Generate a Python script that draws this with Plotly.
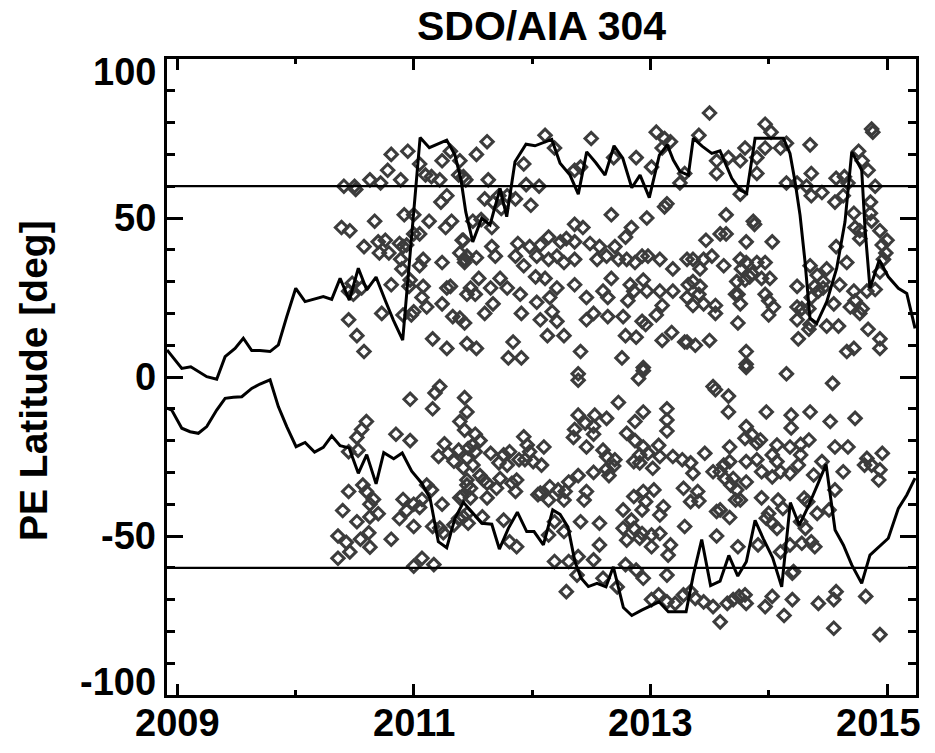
import plotly.graph_objects as go

# ---------------- data ----------------
# polar-edge latitude, northern boundary (one value per Carrington rotation)
north_year = [2008.915, 2009.04, 2009.116, 2009.251, 2009.335, 2009.406, 2009.49, 2009.56, 2009.631, 2009.701,
              2009.786, 2009.856, 2009.927, 2010.003, 2010.082, 2010.166, 2010.236, 2010.307, 2010.378, 2010.456,
              2010.532, 2010.603, 2010.682, 2010.758, 2010.828, 2010.907, 2011.054, 2011.132, 2011.206, 2011.279,
              2011.349, 2011.40, 2011.44, 2011.499, 2011.575, 2011.645, 2011.73, 2011.786, 2011.856, 2011.949,
              2012.025, 2012.093, 2012.167, 2012.237, 2012.321, 2012.391, 2012.462, 2012.541, 2012.617, 2012.693,
              2012.767, 2012.843, 2012.913, 2012.991, 2013.076, 2013.143, 2013.194, 2013.251, 2013.321, 2013.363,
              2013.437, 2013.519, 2013.589, 2013.688, 2013.758, 2013.814, 2013.885, 2013.961, 2014.037, 2014.124,
              2014.18, 2014.223, 2014.265, 2014.307, 2014.349, 2014.406, 2014.491, 2014.575, 2014.645, 2014.702,
              2014.786, 2014.814, 2014.856, 2014.935, 2015.011, 2015.096, 2015.167, 2015.237]
north_lat = [8.5, 2.7, 3.2, 0.1, -0.7, 6.4, 9.0, 12.2, 8.3, 8.3,
             8.0, 10.1, 19.0, 27.9, 23.7, 24.7, 25.3, 24.4, 31.0, 24.2,
             34.2, 27.4, 31.4, 24.2, 17.9, 11.6, 75.3, 72.1, 73.3, 74.5,
             69.8, 61.9, 51.9, 42.5, 49.9, 47.8, 59.3, 50.4, 67.7, 73.2,
             72.7, 73.6, 74.7, 67.2, 63.5, 57.5, 70.8, 67.3, 63.5, 72.7,
             68.8, 59.5, 63.5, 56.4, 69.8, 73.0, 68.2, 64.6, 63.5, 75.1,
             72.6, 70.3, 71.1, 62.5, 58.8, 57.8, 75.1, 75.1, 75.1, 75.1,
             70.3, 61.4, 50.9, 36.3, 18.5, 16.9, 23.7, 34.2, 48.8, 70.8,
             65.1, 46.8, 27.9, 36.8, 31.5, 27.9, 26.3, 15.3]

# polar-edge latitude, southern boundary
south_year = [2008.915, 2008.955, 2009.04, 2009.11, 2009.18, 2009.251, 2009.335, 2009.406, 2009.476, 2009.547,
              2009.631, 2009.701, 2009.786, 2009.856, 2009.927, 2010.006, 2010.082, 2010.162, 2010.236, 2010.307,
              2010.378, 2010.454, 2010.532, 2010.603, 2010.682, 2010.747, 2010.831, 2010.903, 2010.983, 2011.068,
              2011.138, 2011.208, 2011.279, 2011.349, 2011.42, 2011.504, 2011.575, 2011.66, 2011.724, 2011.8,
              2011.876, 2011.955, 2012.017, 2012.096, 2012.175, 2012.237, 2012.304, 2012.363, 2012.414, 2012.476,
              2012.549, 2012.625, 2012.687, 2012.772, 2012.843, 2012.927, 2013.002, 2013.073, 2013.152, 2013.225,
              2013.302, 2013.363, 2013.434, 2013.509, 2013.589, 2013.663, 2013.739, 2013.811, 2013.885, 2013.955,
              2014.033, 2014.11, 2014.183, 2014.259, 2014.333, 2014.406, 2014.485, 2014.561, 2014.631, 2014.702,
              2014.786, 2014.856, 2014.935, 2015.011, 2015.096, 2015.167, 2015.237]
south_lat = [-9.8, -10.4, -16.1, -17.2, -17.7, -15.6, -10.4, -6.7, -6.4, -6.2,
             -3.6, -2.2, -0.9, -9.3, -15.6, -21.9, -20.6, -23.6, -22.1, -18.5,
             -21.6, -22.3, -30.3, -24.4, -33.6, -23.8, -25.7, -23.9, -29.6, -33.4,
             -38.1, -51.8, -53.7, -44.4, -39.4, -42.9, -46.0, -46.3, -54.1, -47.6,
             -42.5, -48.6, -48.6, -52.8, -41.8, -43.2, -47.2, -58.1, -63.2, -65.9,
             -64.9, -66.0, -59.7, -72.5, -75.0, -73.3, -72.0, -70.7, -73.8, -73.8,
             -73.8, -62.3, -51.1, -65.6, -64.2, -56.1, -62.6, -58.1, -45.1, -50.9,
             -56.8, -66.0, -39.5, -46.6, -40.8, -34.5, -27.5, -48.1, -52.8, -59.1,
             -64.9, -56.0, -53.4, -50.7, -41.3, -37.1, -31.8]

# individual polar-edge detections (year, latitude)
pe_north_2010_2011 = [
    (2010.81, 70), (2010.95, 71), (2010.78, 65), (2011.05, 67), (2011.24, 68), (2011.31, 71),
    (2010.41, 60), (2010.50, 60), (2010.51, 59), (2010.63, 62), (2010.72, 61), (2010.89, 62), (2011.10, 63.5),
    (2011.15, 63), (2011.22, 62), (2011.38, 63.5), (2011.28, 57), (2011.23, 55),
    (2010.39, 47), (2010.46, 46), (2010.67, 49), (2010.92, 51), (2011.00, 51), (2011.13, 49), (2011.32, 49),
    (2011.27, 47), (2011.05, 45), (2011.00, 45), (2011.41, 43),
    (2010.58, 41), (2010.70, 42.5), (2010.76, 43), (2010.71, 39), (2010.79, 39), (2010.88, 42), (2010.91, 41),
    (2010.94, 41.5), (2010.89, 37), (2010.90, 34), (2011.08, 37), (2011.05, 35), (2011.24, 36), (2011.43, 37),
    (2010.81, 29), (2010.97, 30.5), (2010.96, 28.5), (2011.08, 28.5), (2011.07, 25), (2011.11, 22), (2011.28, 28),
    (2011.31, 28.5), (2011.24, 23), (2011.45, 26), (2010.48, 29.5), (2010.45, 27), (2010.49, 26), (2010.56, 28),
    (2010.73, 20), (2010.91, 19.5), (2010.98, 19.5), (2011.00, 20.5), (2011.33, 19), (2011.39, 18.5),
    (2010.45, 18), (2010.52, 13), (2010.58, 8), (2011.16, 12), (2011.28, 9), (2011.45, 10.5),
]
pe_north_2011_2013 = [
    (2011.62, 74), (2011.53, 70), (2011.39, 68), (2012.11, 76), (2012.50, 75), (2013.05, 77), (2013.12, 75),
    (2013.17, 74), (2011.93, 67), (2012.19, 72), (2012.41, 66), (2012.36, 65), (2012.69, 69), (2012.88, 69),
    (2013.01, 66), (2013.10, 72), (2011.42, 63), (2011.44, 62), (2011.63, 62), (2011.95, 60.5), (2012.06, 60),
    (2013.25, 61), (2011.60, 56), (2011.67, 55), (2011.72, 57), (2011.79, 57), (2011.86, 56), (2011.74, 53),
    (2011.99, 54), (2013.12, 53.5), (2013.14, 54.5), (2012.67, 51), (2012.97, 50),
    (2011.50, 49), (2011.57, 49.5), (2011.66, 47), (2012.36, 48), (2012.43, 47), (2012.84, 47), (2012.79, 44),
    (2011.42, 43), (2011.39, 39), (2011.66, 41), (2011.69, 38),
    (2011.88, 42), (2011.98, 41), (2012.07, 41.5), (2012.14, 44), (2012.24, 42.5), (2012.29, 43.5),
    (2012.36, 42.5), (2012.49, 42), (2012.57, 41), (2012.70, 41),
    (2011.45, 38), (2011.53, 37.5), (2011.43, 36),
    (2011.86, 38), (2011.93, 35), (2012.04, 38), (2012.14, 37), (2012.21, 38), (2012.27, 36), (2012.36, 37),
    (2012.55, 37), (2012.63, 38), (2012.73, 37), (2012.80, 37), (2012.87, 36), (2012.93, 38), (2012.98, 38),
    (2013.08, 37), (2013.19, 34), (2013.31, 37),
    (2011.55, 31), (2011.48, 28), (2011.52, 26), (2011.65, 28), (2011.73, 31), (2011.79, 28), (2011.67, 23),
    (2011.60, 20), (2011.43, 17),
    (2012.03, 31.5), (2012.11, 31), (2012.21, 28), (2011.90, 26), (2012.04, 23.5), (2012.15, 25), (2011.91, 20),
    (2012.07, 18), (2012.17, 20.5), (2012.21, 17.5), (2012.13, 13), (2012.27, 13),
    (2012.36, 29), (2012.46, 25), (2012.60, 27), (2012.67, 31), (2012.64, 25), (2012.52, 20), (2012.46, 18),
    (2012.64, 19),
    (2012.83, 29), (2012.94, 30.5), (2012.86, 27), (2012.81, 24), (2012.97, 27), (2013.08, 27), (2013.19, 27),
    (2013.10, 22.5), (2013.05, 19.5), (2012.93, 17.5), (2012.96, 16.5), (2012.77, 19), (2012.79, 13),
    (2012.88, 12.5), (2013.10, 11.5), (2013.18, 14), (2013.29, 11),
    (2011.53, 9), (2011.84, 11), (2011.80, 6), (2011.91, 6), (2012.41, 8), (2012.76, 6), (2012.39, 1),
    (2012.94, 3),
]
pe_north_2013_2015 = [
    (2013.50, 83), (2013.41, 76), (2013.97, 79.5), (2014.02, 77), (2014.87, 78), (2014.88, 77),
    (2013.80, 72), (2013.90, 69), (2013.97, 72), (2014.10, 72), (2014.15, 73.5), (2014.35, 73), (2014.76, 71),
    (2013.56, 68), (2013.66, 69), (2013.76, 68), (2013.56, 64), (2013.90, 64), (2013.29, 64), (2014.36, 64),
    (2014.79, 68), (2014.84, 65), (2014.57, 62.5), (2014.64, 63), (2014.67, 61), (2013.76, 57.5), (2014.15, 61),
    (2014.24, 61), (2014.32, 60), (2014.36, 57), (2014.45, 58), (2014.90, 60),
    (2014.56, 55), (2014.63, 57), (2014.86, 55), (2014.86, 51.5), (2013.64, 51), (2013.87, 49), (2013.88, 48),
    (2014.72, 51.5), (2014.73, 47), (2014.77, 46), (2014.87, 49), (2013.59, 45), (2013.64, 45), (2013.47, 43),
    (2013.81, 42.5), (2014.03, 42.5), (2014.77, 43.5), (2014.94, 46), (2015.00, 43), (2014.96, 41.5),
    (2014.57, 41),
    (2013.36, 37), (2013.45, 37), (2013.52, 38), (2013.62, 35), (2013.42, 34), (2013.76, 37), (2013.81, 36),
    (2013.90, 36), (2013.97, 36), (2013.77, 34), (2013.86, 32.5), (2013.94, 31), (2014.01, 31),
    (2014.99, 39), (2014.97, 37), (2014.94, 33), (2014.66, 36),
    (2013.36, 30), (2013.32, 29), (2013.42, 28.5), (2013.41, 26), (2013.31, 25), (2013.36, 22.5), (2013.45, 23),
    (2013.55, 22.5), (2013.55, 20),
    (2013.73, 30), (2013.74, 26), (2013.72, 26), (2013.80, 30.5), (2013.84, 31.5), (2013.76, 23), (2013.74, 17),
    (2013.97, 26), (2014.00, 24), (2014.04, 22), (2014.00, 19.5),
    (2014.24, 28.5), (2014.24, 22), (2014.28, 21.5), (2014.24, 18), (2014.34, 21.5), (2014.36, 25),
    (2014.39, 28.5), (2014.35, 35), (2014.41, 32), (2014.49, 34), (2014.46, 30),
    (2014.42, 27), (2014.46, 28), (2014.55, 23), (2014.60, 29),
    (2014.49, 16), (2014.59, 16), (2014.34, 15), (2014.25, 12), (2014.35, 16.5),
    (2014.69, 22), (2014.73, 24), (2014.77, 20), (2014.79, 21.5), (2014.72, 27), (2014.83, 27), (2014.90, 27.5),
    (2014.84, 15), (2014.94, 12), (2014.94, 9), (2014.66, 8), (2014.72, 9),
    (2013.31, 11), (2013.38, 10), (2013.50, 11.5), (2013.81, 8), (2013.81, 4), (2014.15, 1),
]
pe_south_2010_2011 = [
    (2011.22, -3), (2011.18, -5), (2010.97, -7), (2011.16, -10), (2011.43, -6.5), (2011.45, -11), (2011.39, -14),
    (2010.60, -14), (2010.56, -16.5), (2010.52, -19), (2010.53, -23), (2010.45, -23.5), (2010.85, -18),
    (2010.97, -20), (2011.26, -21), (2011.21, -25), (2011.29, -24), (2011.34, -26.5), (2011.38, -23),
    (2011.42, -28.5), (2011.45, -25.5),
    (2010.57, -34), (2010.60, -36), (2010.45, -36), (2010.66, -38.5), (2010.63, -40),
    (2010.40, -42), (2010.52, -45.5), (2010.63, -44), (2010.70, -43),
    (2010.36, -50), (2010.43, -52), (2010.55, -51), (2010.62, -49), (2010.63, -53.5), (2010.46, -55),
    (2010.36, -57),
    (2010.91, -38.5), (2011.00, -40), (2010.94, -42), (2011.05, -41), (2011.07, -38.5), (2010.88, -44.5),
    (2011.00, -47), (2010.81, -51), (2011.07, -57), (2011.00, -59.5), (2011.17, -59), (2011.15, -35.5),
    (2011.11, -34), (2011.24, -40), (2011.22, -47.5), (2011.25, -49), (2011.34, -46.5), (2011.38, -44.5),
    (2011.45, -43), (2011.41, -37.5), (2011.45, -34), (2011.16, -47),
]
pe_south_2011_2013 = [
    (2012.39, -1), (2012.94, 2), (2012.90, -0.5), (2012.73, -8),
    (2012.39, -12), (2012.53, -12), (2012.45, -14.5), (2012.63, -13), (2012.52, -15.5), (2012.36, -16.5),
    (2012.35, -19), (2012.52, -18), (2012.46, -22),
    (2012.94, -11), (2012.87, -14), (2013.14, -10), (2013.14, -13.5), (2013.14, -17),
    (2012.80, -17.7), (2012.87, -20), (2012.94, -22), (2013.07, -21.5), (2012.91, -24.5), (2012.98, -24),
    (2013.08, -25), (2012.86, -26.6), (2012.91, -27), (2013.02, -28.7), (2013.19, -25), (2013.27, -26),
    (2013.34, -27),
    (2012.60, -23), (2012.63, -25), (2012.70, -26), (2012.52, -30), (2012.63, -29), (2012.69, -28),
    (2012.65, -31),
    (2012.39, -31), (2012.31, -33), (2012.28, -36), (2012.15, -34.5), (2012.07, -36.5), (2012.14, -38.7),
    (2012.27, -38.7), (2012.46, -36), (2012.44, -38.7), (2012.22, -35.5),
    (2011.43, -16.7), (2011.52, -18), (2011.56, -20), (2011.46, -22.5), (2011.52, -23.5), (2011.50, -21.4),
    (2011.65, -24), (2011.76, -24.5), (2011.81, -23.5), (2011.72, -27), (2011.79, -27.7), (2011.89, -26),
    (2011.93, -18.8), (2011.96, -21.4), (2011.98, -23.5), (2012.10, -22), (2011.94, -26), (2012.01, -26.6),
    (2012.08, -27.7),
    (2011.50, -27.7), (2011.56, -31), (2011.45, -32.4), (2011.48, -35), (2011.59, -32.4), (2011.62, -33.4),
    (2011.73, -31.9), (2011.70, -35), (2011.83, -33.4), (2011.87, -32.4), (2011.86, -36), (2011.62, -38),
    (2011.39, -38), (2011.48, -38),
    (2011.42, -44), (2011.46, -46), (2011.58, -44), (2011.76, -45), (2011.81, -51.8), (2011.87, -53.4),
    (2012.14, -49.7), (2012.19, -45.5), (2012.27, -48.6), (2012.05, -37),
    (2012.41, -45.5), (2012.57, -46), (2012.57, -52.8), (2012.52, -57.5), (2012.39, -56.5), (2012.31, -58),
    (2012.19, -58), (2012.29, -67.5), (2012.38, -62.3),
    (2012.77, -41.8), (2012.84, -45), (2012.93, -41.8), (2012.77, -47.6), (2012.86, -47.6), (2012.93, -49.2),
    (2012.80, -51.3), (2012.91, -50.7), (2013.01, -49.7), (2013.08, -49.2), (2013.17, -52.8), (2013.01, -53.4),
    (2013.15, -56), (2013.08, -43.4), (2013.11, -40.8),
    (2012.86, -37.6), (2012.94, -36), (2013.03, -35.5), (2012.96, -39.2),
    (2013.28, -35), (2013.34, -39.2), (2013.29, -47),
    (2012.79, -59), (2012.88, -60.7), (2012.94, -63.3), (2013.14, -62.3),
    (2013.01, -70), (2013.07, -68.5), (2013.14, -70.7), (2013.21, -71.2), (2013.28, -68.5), (2013.34, -67.5),
    (2012.72, -66), (2012.60, -63.3),
]
pe_south_2013_2015 = [
    (2013.59, -77), (2014.13, -75), (2014.55, -79), (2014.94, -81),
    (2013.45, -70.7), (2013.53, -72.2), (2013.65, -71.2), (2013.70, -70), (2013.75, -69), (2013.81, -71.2),
    (2013.97, -72.2), (2014.03, -69), (2014.20, -70), (2014.42, -71.2), (2014.55, -70), (2014.57, -67.5),
    (2014.82, -69), (2013.38, -69.6), (2013.80, -68.5),
    (2013.81, 3), (2014.54, -2),
    (2013.53, -3), (2013.55, -4), (2013.66, -6), (2013.66, -11), (2013.98, -11), (2014.19, -12), (2014.35, -11),
    (2014.52, -14), (2014.73, -13), (2014.19, -16),
    (2013.81, -15.6), (2013.80, -19.3), (2013.86, -18.2), (2013.90, -20.8), (2013.93, -19.8), (2013.67, -22),
    (2014.07, -21.4), (2014.18, -22), (2014.27, -21.2), (2014.34, -19.8),
    (2013.46, -24), (2013.36, -30.3), (2013.67, -26.6), (2013.59, -29.8), (2013.53, -29.8), (2013.81, -26.6),
    (2013.90, -26), (2014.03, -24.5), (2014.07, -26.6), (2013.94, -29.8), (2014.03, -31.4), (2014.10, -29.8),
    (2014.18, -30.3), (2014.25, -27.7), (2014.27, -24.5), (2014.38, -30.8), (2014.45, -26.6), (2014.56, -22),
    (2014.67, -22), (2014.83, -25.6), (2014.96, -24), (2014.87, -27.7), (2014.94, -29.2), (2014.93, -32.4),
    (2014.63, -29.8), (2014.81, -27.7),
    (2013.62, -27.7), (2013.63, -31.9), (2013.68, -34), (2013.70, -31.9), (2013.73, -35.5), (2013.81, -33),
    (2013.40, -36), (2013.41, -39),
    (2013.72, -38.7), (2013.76, -38.7), (2013.94, -38), (2014.08, -38.7), (2014.12, -41.3), (2014.00, -42.9),
    (2013.98, -44.4), (2014.07, -47.6), (2014.03, -46), (2014.30, -38.1), (2014.33, -39.2), (2014.27, -45.5),
    (2014.41, -42.9), (2014.51, -41.8), (2014.56, -35.5), (2014.31, -47.6), (2013.59, -41.8), (2013.56, -42.3),
    (2013.67, -44.2),
    (2013.56, -50), (2013.74, -53.4), (2013.91, -52.8), (2014.10, -55), (2014.18, -52.8), (2014.28, -52.3),
    (2014.36, -51.8), (2014.39, -53.4), (2014.21, -61.2), (2014.20, -61.7),
]

threshold_lats = [60, -60]
x_tick_labels = [2009, 2011, 2013, 2015]
y_tick_labels = [-100, -50, 0, 50, 100]
x_range = [2008.915, 2015.245]
y_range = [-100, 100]

# ---------------- figure ----------------
all_pts = (pe_north_2010_2011 + pe_north_2011_2013 + pe_north_2013_2015 +
           pe_south_2010_2011 + pe_south_2011_2013 + pe_south_2013_2015)
pe_x = [p[0] for p in all_pts]
pe_y = [p[1] for p in all_pts]

FONT = "Liberation Sans"
INK = "black"
DIAMOND = "#3c3c3c"

fig = go.Figure()
fig.add_trace(go.Scatter(
    x=pe_x, y=pe_y, mode="markers", showlegend=False, hoverinfo="skip",
    marker=dict(symbol="diamond-open", size=9.5, color=DIAMOND, line=dict(width=3, color=DIAMOND)),
))
for v in threshold_lats:
    fig.add_hline(y=v, line=dict(color=INK, width=2.2))
fig.add_trace(go.Scatter(x=north_year, y=north_lat, mode="lines", showlegend=False,
                         line=dict(color=INK, width=3)))
fig.add_trace(go.Scatter(x=south_year, y=south_lat, mode="lines", showlegend=False,
                         line=dict(color=INK, width=3)))

axis_common = dict(showgrid=False, zeroline=False, showline=True, linecolor=INK, linewidth=2.6,
                   mirror="ticks", ticks="inside", tickcolor=INK, tickwidth=2.6, showticklabels=False)
fig.update_xaxes(range=x_range, tick0=2009, dtick=2, ticklen=11,
                 minor=dict(ticks="inside", tick0=2009, dtick=1, ticklen=5, tickwidth=2.6,
                            tickcolor=INK, showgrid=False),
                 **axis_common)
fig.update_yaxes(range=y_range, tick0=-100, dtick=50, ticklen=16,
                 minor=dict(ticks="inside", tick0=-100, dtick=10, ticklen=8, tickwidth=2.6,
                            tickcolor=INK, showgrid=False),
                 **axis_common)

tick_font = dict(family=FONT, size=38, color=INK, weight="bold")
annotations = []
for i, v in enumerate(x_tick_labels):
    shift = -9 if i == len(x_tick_labels) - 1 else 0
    annotations.append(dict(text=str(v), x=v, xref="x", y=0, yref="paper", xanchor="center",
                            yanchor="top", yshift=-5, xshift=shift, showarrow=False, font=tick_font))
for v in y_tick_labels:
    shift = -13 if v == y_range[1] else (13 if v == y_range[0] else 0)
    annotations.append(dict(text=str(v), x=0, xref="paper", y=v, yref="y", xanchor="right",
                            yanchor="middle", xshift=-9, yshift=shift, showarrow=False, font=tick_font))
annotations.append(dict(text="PE Latitude [deg]", x=0, xref="paper", y=0.5, yref="paper",
                        xanchor="center", yanchor="middle", xshift=-134, yshift=-4, textangle=-90,
                        showarrow=False, font=dict(family=FONT, size=39, color=INK, weight="bold")))

fig.update_layout(
    width=935, height=753,
    margin=dict(l=167, r=19, t=59, b=58),
    paper_bgcolor="white", plot_bgcolor="white",
    title=dict(text="SDO/AIA 304", x=0.5, xref="paper", xanchor="center", y=0.966, yref="container",
               yanchor="middle", font=dict(family=FONT, size=41, color=INK, weight="bold")),
    annotations=annotations,
    showlegend=False,
)

fig.write_html("out.html")
